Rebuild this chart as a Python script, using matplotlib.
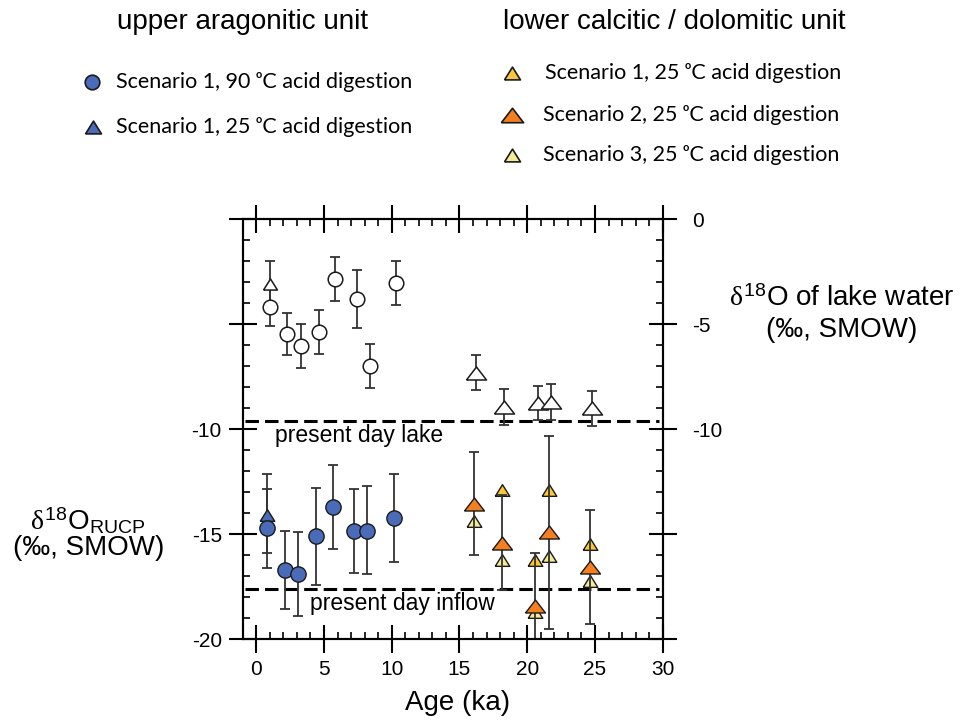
import numpy as np
import matplotlib
matplotlib.use("Agg")
import matplotlib.pyplot as plt
from matplotlib.lines import Line2D
from matplotlib.ticker import MultipleLocator, FuncFormatter

plt.rcParams['font.family'] = ['Liberation Sans', 'DejaVu Sans']
plt.rcParams['mathtext.fontset'] = 'custom'
plt.rcParams['mathtext.rm'] = 'Liberation Sans'
plt.rcParams['mathtext.it'] = 'Liberation Serif'
plt.rcParams['mathtext.bf'] = 'Liberation Sans:bold'

# --- upper aragonitic unit, lake water (open symbols, right-hand scale) ---
lw_circ_age = [1.0, 2.3, 3.3, 4.6, 5.8, 7.4, 8.4, 10.3]
lw_circ_d18o = [-4.2, -5.45, -6.05, -5.35, -2.85, -3.8, -7.0, -3.05]
lw_circ_err = [0.9, 1.0, 1.05, 1.05, 1.05, 1.4, 1.05, 1.05]

lw_tri_age = [1.0]
lw_tri_d18o = [-3.1]
lw_tri_err = [1.1]

# lower unit, lake water
lw_low_age = [16.2, 18.3, 20.8, 21.75, 24.8]
lw_low_d18o = [-7.3, -8.95, -8.75, -8.7, -9.0]
lw_low_err = [0.83, 0.85, 0.8, 0.85, 0.82]

# --- carbonate values (filled symbols, left-hand scale) ---
ar90_age = [0.81, 2.11, 3.1, 4.43, 5.65, 7.21, 8.18, 10.14]
ar90_d18o = [-14.7, -16.7, -16.9, -15.1, -13.7, -14.83, -14.83, -14.2]
ar90_err_lo = [1.9, 1.87, 2.0, 2.3, 2.0, 2.0, 2.07, 2.1]
ar90_err_hi = [2.58, 1.87, 2.0, 2.3, 2.0, 2.0, 2.13, 2.07]

ar25_age = [0.81]
ar25_d18o = [-14.08]
ar25_err_lo = [1.8]
ar25_err_hi = [1.22]

cal_age = [16.05, 18.15, 20.6, 21.6, 24.6]
cal_sc1 = [np.nan, -12.9, -16.2, -12.9, -15.45]
cal_sc2 = [-13.55, -15.4, -18.4, -14.9, -16.55]
cal_sc2_err = [2.45, 2.25, 2.5, 4.6, 2.7]
cal_sc3 = [-14.35, -16.2, -18.7, -16.05, -17.2]

lake_today = -9.6
inflow_today = -17.6

blue = '#4a6cb8'
orange = '#f47f20'
gold = '#f8c73a'
pale = '#f5ea98'
edge = '#1a1a1a'
bar_col = '#333333'

# triangle shapes: narrow and wide
tri_small = [(-1, -0.8), (1, -0.8), (0, 0.8), (-1, -0.8)]
tri_wide = [(-1, -0.65), (1, -0.65), (0, 0.65), (-1, -0.65)]

W, H = 961, 723
fig = plt.figure(figsize=(W / 100, H / 100), dpi=100)


def fx(x):
    return x / W


def fy(y):
    return 1 - y / H


ax = fig.add_axes([fx(242.7), fy(639.3), fx(662.7) - fx(242.7), fy(219.3) - fy(639.3)])
ax.set_xlim(-1, 30)
ax.set_ylim(-20, 0)

ebkw = dict(fmt='none', ecolor=bar_col, elinewidth=1.3, capthick=1.3)

# reference lines
ax.hlines([lake_today, inflow_today], -0.8, 29.7, colors='black', linewidth=2.2,
          linestyles=(0, (4.4, 2.0)), zorder=2)
ax.text(1.42, lake_today - 0.68, 'present day lake', fontsize=16.5, va='center', ha='left')
ax.text(4.0, inflow_today - 0.69, 'present day inflow', fontsize=16.5, va='center', ha='left')

# lake water, open symbols
ax.errorbar(lw_circ_age, lw_circ_d18o, yerr=lw_circ_err, capsize=3.3, zorder=3, **ebkw)
ax.errorbar(lw_tri_age, lw_tri_d18o, yerr=lw_tri_err, capsize=3.3, zorder=3, **ebkw)
ax.errorbar(lw_low_age, lw_low_d18o, yerr=lw_low_err, capsize=3.3, zorder=3, **ebkw)
ax.plot(lw_tri_age, lw_tri_d18o, ls='none', marker=tri_small, ms=10, mfc='white',
        mec=edge, mew=1.1, zorder=4)
ax.plot(lw_circ_age, lw_circ_d18o, ls='none', marker='o', ms=10.5, mfc='white',
        mec=edge, mew=1.1, zorder=4)
ax.plot(lw_low_age, lw_low_d18o, ls='none', marker=tri_wide, ms=14.4, mfc='white',
        mec=edge, mew=1.1, zorder=4)

# aragonitic unit, carbonate
ax.errorbar(ar90_age, ar90_d18o, yerr=[ar90_err_lo, ar90_err_hi], capsize=3.6, zorder=3, **ebkw)
ax.errorbar(ar25_age, ar25_d18o, yerr=[ar25_err_lo, ar25_err_hi], capsize=3.6, zorder=3, **ebkw)
ax.plot(ar25_age, ar25_d18o, ls='none', marker=tri_small, ms=10.5, mfc=blue,
        mec=edge, mew=1.0, zorder=4)
ax.plot(ar90_age, ar90_d18o, ls='none', marker='o', ms=11, mfc=blue,
        mec=edge, mew=1.0, zorder=5)

# calcitic / dolomitic unit, carbonate
ax.plot(cal_age, cal_sc3, ls='none', marker=tri_small, ms=10.5, mfc=pale,
        mec=edge, mew=1.0, zorder=3)
ax.plot(cal_age, cal_sc1, ls='none', marker=tri_small, ms=10.5, mfc=gold,
        mec=edge, mew=1.0, zorder=3)
ax.errorbar(cal_age, cal_sc2, yerr=cal_sc2_err, capsize=3.6, zorder=4, **ebkw)
ax.plot(cal_age, cal_sc2, ls='none', marker=tri_wide, ms=14.4, mfc=orange,
        mec=edge, mew=1.0, zorder=5)

# axes frame and ticks
for sp in ax.spines.values():
    sp.set_linewidth(1.5)

ax.xaxis.set_major_locator(MultipleLocator(5))
ax.xaxis.set_minor_locator(MultipleLocator(1))
ax.yaxis.set_major_locator(MultipleLocator(5))
ax.yaxis.set_minor_locator(MultipleLocator(1))
ax.tick_params(which='major', direction='inout', length=20, width=1.5,
               top=True, right=False, labelsize=15, pad=5)
ax.tick_params(which='minor', direction='in', length=5, width=1.2,
               top=True, right=False)
ax.yaxis.set_major_formatter(FuncFormatter(lambda v, p: '%d' % v if v <= -10 else ''))

ax2 = ax.twinx()
ax2.set_ylim(-20, 0)
ax2.yaxis.set_major_locator(MultipleLocator(5))
ax2.yaxis.set_minor_locator(MultipleLocator(1))
ax2.tick_params(which='major', direction='inout', length=20, width=1.5,
                labelsize=15, pad=11)
ax2.tick_params(which='minor', direction='in', length=5, width=1.2)
ax2.yaxis.set_major_formatter(FuncFormatter(lambda v, p: '%d' % round(v) if v >= -10 else ''))
for sp in ax2.spines.values():
    sp.set_linewidth(1.5)

# axis titles
fig.text(fx(458), fy(703), 'Age (ka)', fontsize=20, ha='center', va='center')
fig.text(fx(88), fy(530), r'$\delta^{18}\mathrm{O}_{\mathrm{RUCP}}$', fontsize=20,
         ha='center', va='baseline')
fig.text(fx(89), fy(548), '(‰, SMOW)', fontsize=20, ha='center', va='center')
fig.text(fx(842), fy(306), r'$\delta^{18}\mathrm{O}$ of lake water', fontsize=20,
         ha='center', va='baseline')
fig.text(fx(842), fy(330), '(‰, SMOW)', fontsize=20, ha='center', va='center')

# legend blocks
fig.text(fx(117), fy(22), 'upper aragonitic unit', fontsize=20, ha='left', va='center')
fig.text(fx(503), fy(22), 'lower calcitic / dolomitic unit', fontsize=20, ha='left', va='center')

leg_font = ['Lato', 'DejaVu Sans']
keys = [
    (92.3, 81.7, 'o', 10.5, blue, 116, 'Scenario 1, 90 ᵒC acid digestion'),
    (93.3, 126.7, tri_small, 11.5, blue, 116, 'Scenario 1, 25 ᵒC acid digestion'),
    (511.7, 72.7, tri_small, 11.5, gold, 545, 'Scenario 1, 25 ᵒC acid digestion'),
    (511.7, 115, tri_wide, 16, orange, 543, 'Scenario 2, 25 ᵒC acid digestion'),
    (511.7, 155, tri_small, 11.5, pale, 543, 'Scenario 3, 25 ᵒC acid digestion'),
]
for kx, ky, mk, size, col, tx, label in keys:
    fig.add_artist(Line2D([fx(kx)], [fy(ky)], transform=fig.transFigure, ls='none',
                          marker=mk, ms=size, mfc=col, mec=edge, mew=1.2))
    fig.text(fx(tx), fy(ky), label, fontsize=15.5, family=leg_font, ha='left', va='center')

fig.savefig('out.png', dpi=100)
